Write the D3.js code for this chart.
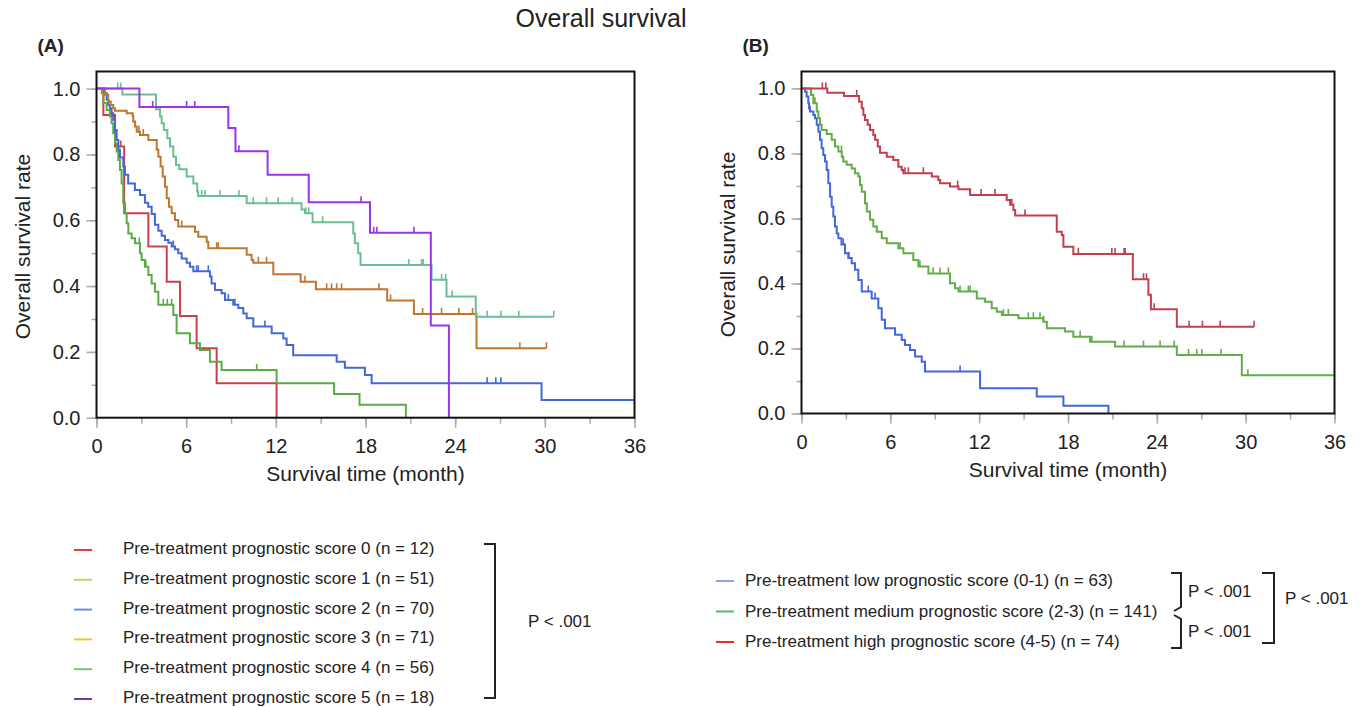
<!DOCTYPE html>
<html>
<head>
<meta charset="utf-8">
<script src="https://cdn.jsdelivr.net/npm/d3@7"></script>
<style>
    body { margin: 0; background: #fff; }
    svg text { font-family: "Liberation Sans", Arial, sans-serif; fill: #222; }
</style>
</head>
<body>
<div id="chart"></div>
<script>
// tick values
const monthTicks = [0, 6, 12, 18, 24, 30, 36];
const monthMinorTicks = [0, 3, 6, 9, 12, 15, 18, 21, 24, 27, 30, 33, 36];
const rateTicks = [0, 0.2, 0.4, 0.6, 0.8, 1.0];
const rateMinorTicks = [0, 0.1, 0.2, 0.3, 0.4, 0.5, 0.6, 0.7, 0.8, 0.9, 1.0];

// (A) each score: [month, survival] after each drop, censored months, last follow-up
const score0Steps = [[0.46, 0.92], [1.24, 0.824], [1.85, 0.621], [3.47, 0.52], [4.70, 0.413], [5.59, 0.309], [6.70, 0.211], [8.04, 0.105], [12.05, 0]];
const score0Censored = [1.62];
const score1Steps = [[0.35, 0.986], [0.46, 0.956], [0.68, 0.935], [0.90, 0.915], [1.01, 0.895], [1.12, 0.864], [1.24, 0.834], [1.35, 0.809], [1.46, 0.783], [1.57, 0.753], [1.68, 0.712], [1.79, 0.652], [1.91, 0.621], [2.02, 0.591], [2.13, 0.560], [2.35, 0.545], [2.58, 0.530], [2.91, 0.500], [3.02, 0.479], [3.24, 0.459], [3.47, 0.434], [3.69, 0.408], [3.91, 0.383], [4.14, 0.343], [5.14, 0.312], [5.36, 0.257], [6.25, 0.226], [6.92, 0.206], [7.59, 0.170], [8.37, 0.145], [12.05, 0.105], [15.9, 0.072], [17.6, 0.039], [20.7, 0]];
const score1Censored = [2.87, 3.31, 4.47, 4.74, 5.03, 10.72];
const score2Steps = [[0.57, 0.986], [0.68, 0.966], [0.79, 0.950], [0.90, 0.940], [1.01, 0.925], [1.12, 0.905], [1.24, 0.874], [1.35, 0.844], [1.46, 0.814], [1.57, 0.791], [1.79, 0.763], [1.90, 0.738], [2.12, 0.712], [2.57, 0.692], [2.91, 0.677], [3.24, 0.653], [3.46, 0.641], [3.69, 0.619], [3.91, 0.586], [4.14, 0.568], [4.36, 0.553], [4.58, 0.540], [4.81, 0.532], [5.03, 0.520], [5.25, 0.512], [5.47, 0.500], [5.70, 0.484], [6.03, 0.471], [6.25, 0.459], [6.48, 0.445], [7.59, 0.429], [7.70, 0.408], [7.93, 0.388], [8.37, 0.378], [8.60, 0.358], [9.15, 0.343], [9.49, 0.333], [9.82, 0.317], [10.05, 0.302], [10.49, 0.277], [11.72, 0.257], [12.50, 0.241], [12.72, 0.221], [13.16, 0.190], [16.07, 0.170], [16.62, 0.152], [17.96, 0.130], [18.41, 0.105], [29.78, 0.054]];
const score2Censored = [5.14, 6.70, 6.81, 7.48, 8.82, 9.26, 11.27, 26.14, 26.72, 27.06];
const score3Steps = [[0.57, 0.981], [0.79, 0.961], [0.95, 0.950], [1.12, 0.940], [1.24, 0.933], [2.02, 0.925], [2.42, 0.917], [2.46, 0.900], [2.58, 0.885], [2.69, 0.869], [2.91, 0.859], [3.47, 0.844], [4.03, 0.814], [4.14, 0.793], [4.29, 0.763], [4.43, 0.733], [4.58, 0.702], [4.70, 0.667], [4.85, 0.641], [5.03, 0.621], [5.25, 0.601], [5.47, 0.581], [6.59, 0.565], [6.81, 0.550], [7.37, 0.535], [7.48, 0.515], [10.05, 0.495], [10.38, 0.479], [10.49, 0.471], [11.83, 0.436], [13.66, 0.413], [14.68, 0.390], [19.45, 0.356], [21.24, 0.315], [25.43, 0.211]];
const score3Censored = [2.84, 3.13, 5.70, 8.04, 8.15, 10.83, 11.38, 13.95, 15.40, 15.73, 16.07, 16.40, 18.90, 19.68, 21.82, 23.09, 24.25, 25.16, 28.33, 30.11];
const score4Steps = [[1.73, 0.982], [3.98, 0.937], [4.25, 0.915], [4.36, 0.895], [4.51, 0.874], [4.74, 0.849], [4.92, 0.824], [5.14, 0.793], [5.32, 0.768], [5.54, 0.755], [6.03, 0.733], [6.48, 0.712], [6.74, 0.687], [6.80, 0.674], [10.05, 0.652], [13.72, 0.633], [13.95, 0.621], [14.46, 0.594], [17.18, 0.560], [17.29, 0.530], [17.51, 0.500], [17.67, 0.464], [22.42, 0.419], [23.42, 0.368], [25.38, 0.307]];
const score4Censored = [1.42, 1.62, 7.04, 7.26, 8.26, 9.53, 10.49, 11.38, 12.16, 13.10, 14.00, 14.20, 15.13, 20.90, 21.75, 21.86, 23.09, 23.36, 23.80, 26.14, 27.06, 28.26, 30.60];
const score5Steps = [[2.87, 0.944], [8.82, 0.88], [9.30, 0.81], [11.45, 0.738], [14.20, 0.655], [18.30, 0.562], [22.37, 0.28], [23.58, 0]];
const score5Censored = [3.76, 6.03, 6.57, 9.53, 17.70, 18.55, 18.76, 21.24];
const followUpA = [12.05, 20.7, 36, 30.11, 30.6, 23.58];

// (B) grouped scores
const lowSteps = [[0.24, 0.990], [0.35, 0.975], [0.46, 0.954], [0.51, 0.939], [0.57, 0.929], [0.80, 0.918], [0.91, 0.908], [1.03, 0.888], [1.14, 0.867], [1.25, 0.842], [1.36, 0.816], [1.47, 0.795], [1.59, 0.775], [1.70, 0.749], [1.81, 0.708], [1.93, 0.667], [2.04, 0.636], [2.15, 0.606], [2.26, 0.575], [2.38, 0.554], [2.49, 0.539], [2.70, 0.520], [2.94, 0.493], [3.16, 0.478], [3.39, 0.462], [3.61, 0.442], [3.84, 0.411], [4.07, 0.375], [4.74, 0.354], [5.19, 0.324], [5.42, 0.288], [5.64, 0.262], [6.32, 0.242], [6.77, 0.226], [6.99, 0.211], [7.33, 0.195], [7.67, 0.175], [8.12, 0.159], [8.34, 0.129], [12.06, 0.078], [15.89, 0.052], [17.69, 0.024], [20.73, 0]];
const lowCensored = [0.57, 2.82, 3.20, 4.51, 4.97, 10.71];
const mediumSteps = [[0.64, 0.980], [0.80, 0.954], [1.03, 0.929], [1.14, 0.908], [1.25, 0.888], [1.36, 0.872], [1.70, 0.860], [2.04, 0.842], [2.26, 0.821], [2.49, 0.806], [2.72, 0.790], [2.82, 0.775], [3.05, 0.765], [3.39, 0.754], [3.61, 0.739], [3.84, 0.729], [3.95, 0.703], [4.07, 0.682], [4.29, 0.647], [4.41, 0.621], [4.63, 0.596], [4.85, 0.575], [5.08, 0.559], [5.42, 0.539], [5.76, 0.524], [6.54, 0.508], [6.88, 0.493], [7.55, 0.472], [7.89, 0.452], [8.57, 0.431], [10.03, 0.401], [10.37, 0.385], [10.60, 0.375], [11.84, 0.354], [12.40, 0.344], [12.85, 0.324], [13.19, 0.313], [13.53, 0.303], [14.65, 0.293], [16.34, 0.282], [16.57, 0.262], [17.80, 0.252], [18.36, 0.236], [19.49, 0.221], [21.18, 0.206], [25.35, 0.180], [29.74, 0.118]];
const mediumCensored = [0.91, 2.70, 5.10, 6.66, 8.00, 8.90, 9.36, 9.92, 10.71, 11.27, 11.39, 13.64, 13.97, 15.32, 15.66, 16.11, 16.34, 18.82, 19.61, 21.79, 23.10, 24.22, 25.17, 26.14, 26.70, 27.04, 28.34, 30.15];
const highSteps = [[1.74, 0.987], [2.87, 0.977], [3.89, 0.959], [4.07, 0.939], [4.18, 0.918], [4.29, 0.903], [4.47, 0.888], [4.63, 0.872], [4.85, 0.857], [4.97, 0.842], [5.15, 0.821], [5.30, 0.802], [5.76, 0.790], [6.20, 0.780], [6.54, 0.759], [6.77, 0.749], [6.88, 0.739], [8.80, 0.729], [9.24, 0.718], [9.36, 0.708], [10.03, 0.698], [10.60, 0.690], [11.39, 0.672], [13.86, 0.657], [14.09, 0.642], [14.31, 0.626], [14.43, 0.609], [17.24, 0.559], [17.58, 0.549], [17.69, 0.513], [18.36, 0.491], [22.38, 0.413], [23.43, 0.365], [23.60, 0.321], [25.35, 0.267]];
const highCensored = [1.41, 1.64, 3.73, 4.30, 6.99, 7.22, 8.23, 10.55, 11.39, 12.13, 13.07, 14.20, 15.10, 18.70, 20.96, 21.18, 21.79, 21.86, 23.10, 23.30, 23.82, 26.18, 27.08, 28.28, 30.57];
const followUpB = [20.73, 36, 30.57];

const legendLabelsA = [
    'Pre-treatment prognostic score 0 (n = 12)',
    'Pre-treatment prognostic score 1 (n = 51)',
    'Pre-treatment prognostic score 2 (n = 70)',
    'Pre-treatment prognostic score 3 (n = 71)',
    'Pre-treatment prognostic score 4 (n = 56)',
    'Pre-treatment prognostic score 5 (n = 18)'
];
const legendLabelsB = [
    'Pre-treatment low prognostic score (0-1) (n = 63)',
    'Pre-treatment medium prognostic score (2-3) (n = 141)',
    'Pre-treatment high prognostic score (4-5) (n = 74)'
];

// colours
const lineColorsA = ['#c8414d', '#5aaa46', '#4468d8', '#c0762e', '#6abf94', '#9a34e6'];
const swatchColorsA = ['#e53a3f', '#b7d86c', '#6b8fdc', '#f2c230', '#7cc17a', '#6e3aa8'];
const lineColorsB = ['#4466dd', '#62ad4a', '#c23f4e'];
const swatchColorsB = ['#8ea4e6', '#5fb75f', '#e62c2c'];

const svg = d3.select('#chart').append('svg')
    .attr('width', 1363)
    .attr('height', 708);

svg.append('text')
    .attr('x', 601).attr('y', 27)
    .attr('text-anchor', 'middle')
    .style('font-size', '25px')
    .text('Overall survival');

function drawPanel(box, curves, tag) {
    const x = d3.scaleLinear().domain([0, 36]).range([box.left, box.right]);
    const y = d3.scaleLinear().domain([0, 1.052]).range([box.bottom, box.top]);
    const g = svg.append('g');

    svg.append('text')
        .attr('x', box.left - 59).attr('y', 52)
        .style('font-size', '19px')
        .style('font-weight', 'bold')
        .text(tag);

    // minor + major ticks, gray, outside the frame
    const axisStyle = sel => {
        sel.select('.domain').remove();
        sel.selectAll('line').attr('stroke', '#aaa').attr('stroke-width', 1.5);
        sel.selectAll('text').style('font-size', '20px').attr('fill', '#222');
    };
    g.append('g').attr('transform', `translate(0,${box.bottom})`)
        .call(d3.axisBottom(x).tickValues(monthMinorTicks).tickSize(6).tickFormat(''))
        .call(axisStyle);
    g.append('g').attr('transform', `translate(0,${box.bottom})`)
        .call(d3.axisBottom(x).tickValues(monthTicks).tickSize(10).tickPadding(11).tickFormat(d3.format('d')))
        .call(axisStyle);
    g.append('g').attr('transform', `translate(${box.left},0)`)
        .call(d3.axisLeft(y).tickValues(rateMinorTicks).tickSize(5).tickFormat(''))
        .call(axisStyle);
    g.append('g').attr('transform', `translate(${box.left},0)`)
        .call(d3.axisLeft(y).tickValues(rateTicks).tickSize(10).tickPadding(6).tickFormat(d3.format('.1f')))
        .call(axisStyle);

    g.append('text')
        .attr('x', (box.left + box.right) / 2).attr('y', box.bottom + 63)
        .attr('text-anchor', 'middle')
        .style('font-size', '21px')
        .text('Survival time (month)');
    g.append('text')
        .attr('transform', `translate(${box.left - 67},${y(0.52)}) rotate(-90)`)
        .attr('text-anchor', 'middle')
        .style('font-size', '21px')
        .text('Overall survival rate');

    const line = d3.line()
        .x(d => x(d[0]))
        .y(d => y(d[1]))
        .curve(d3.curveStepAfter);
    const bisect = d3.bisector(d => d[0]).right;

    curves.forEach(c => {
        const last = c.steps[c.steps.length - 1];
        const pts = [[0, 1], ...c.steps];
        if (c.end > last[0]) pts.push([c.end, last[1]]);
        g.append('path')
            .attr('d', line(pts))
            .attr('fill', 'none')
            .attr('stroke', c.color)
            .attr('stroke-width', 2);
        g.selectAll(null)
            .data(c.censored)
            .enter()
            .append('line')
            .attr('x1', d => x(d)).attr('x2', d => x(d))
            .attr('y1', d => y(pts[bisect(pts, d) - 1][1]))
            .attr('y2', d => y(pts[bisect(pts, d) - 1][1]) - 6)
            .attr('stroke', c.color)
            .attr('stroke-width', 1.6);
    });

    g.append('rect')
        .attr('x', box.left).attr('y', box.top)
        .attr('width', box.right - box.left)
        .attr('height', box.bottom - box.top)
        .attr('fill', 'none')
        .attr('stroke', '#111')
        .attr('stroke-width', 2);
}

const stepsA = [score0Steps, score1Steps, score2Steps, score3Steps, score4Steps, score5Steps];
const censA = [score0Censored, score1Censored, score2Censored, score3Censored, score4Censored, score5Censored];
drawPanel({ left: 96.5, right: 634.5, top: 71.5, bottom: 417.7 },
    stepsA.map((s, i) => ({ steps: s, censored: censA[i], end: followUpA[i], color: lineColorsA[i] })),
    '(A)');

const stepsB = [lowSteps, mediumSteps, highSteps];
const censB = [lowCensored, mediumCensored, highCensored];
drawPanel({ left: 801.5, right: 1334.5, top: 71.5, bottom: 413.5 },
    stepsB.map((s, i) => ({ steps: s, censored: censB[i], end: followUpB[i], color: lineColorsB[i] })),
    '(B)');

// legends
const legA = svg.append('g');
legendLabelsA.forEach((label, i) => {
    const cy = 548 + i * 29.8;
    legA.append('line')
        .attr('x1', 74).attr('x2', 92).attr('y1', cy + 2).attr('y2', cy + 2)
        .attr('stroke', swatchColorsA[i]).attr('stroke-width', 2);
    legA.append('text')
        .attr('x', 123).attr('y', cy + 6)
        .style('font-size', '17px')
        .text(label);
});
legA.append('path')
    .attr('d', 'M484,544H495V698H484')
    .attr('fill', 'none').attr('stroke', '#222').attr('stroke-width', 2);
legA.append('text')
    .attr('x', 528).attr('y', 627)
    .style('font-size', '17px')
    .text('P < .001');

const legB = svg.append('g');
legendLabelsB.forEach((label, i) => {
    const cy = 580 + i * 30.5;
    legB.append('line')
        .attr('x1', 716).attr('x2', 734).attr('y1', cy + 1).attr('y2', cy + 1)
        .attr('stroke', swatchColorsB[i]).attr('stroke-width', 2);
    legB.append('text')
        .attr('x', 745).attr('y', cy + 6)
        .style('font-size', '17px')
        .text(label);
});
legB.append('path')
    .attr('d', 'M1171,573H1181V607L1174,611')
    .attr('fill', 'none').attr('stroke', '#222').attr('stroke-width', 2);
legB.append('path')
    .attr('d', 'M1174,615L1181,619V648H1171')
    .attr('fill', 'none').attr('stroke', '#222').attr('stroke-width', 2);
legB.append('path')
    .attr('d', 'M1262,573H1274V643H1262')
    .attr('fill', 'none').attr('stroke', '#222').attr('stroke-width', 2);
[597, 637].forEach(yy => legB.append('text')
    .attr('x', 1188).attr('y', yy)
    .style('font-size', '17px')
    .text('P < .001'));
legB.append('text')
    .attr('x', 1285).attr('y', 604)
    .style('font-size', '17px')
    .text('P < .001');
</script>
</body>
</html>
